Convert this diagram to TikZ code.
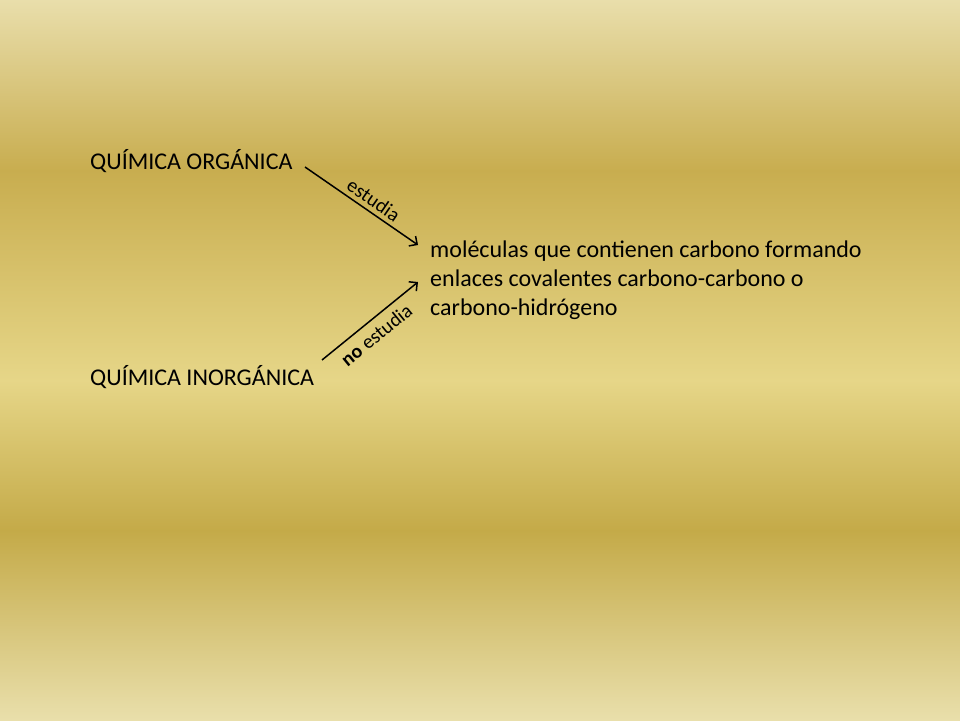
\documentclass[tikz,border=0pt]{standalone}
\usepackage{fontspec}
\setmainfont{Carlito}
\usetikzlibrary{arrows.meta}
\definecolor{bgA}{HTML}{E9DEAB}
\definecolor{bgB}{HTML}{C8AD4F}
\definecolor{bgC}{HTML}{E6D688}
\definecolor{bgD}{HTML}{C4AA48}
\definecolor{bgE}{HTML}{E9DFAB}
\tikzset{
  bigtext/.style={font=\fontsize{24}{29}\selectfont, inner sep=0pt, text=black},
  lbltext/.style={font=\fontsize{20}{23}\selectfont, inner sep=1pt, text=black},
  arr/.style={draw=black, line width=1.5pt, -{Straight Barb[length=6pt,width=12pt,line width=1.5pt]}},
  band/.style={draw=none}
}
\begin{document}
\begin{tikzpicture}[x=1pt,y=-1pt]
\shade[band, top color=bgA, bottom color=bgB] (0,0) rectangle (960,171);
\shade[band, top color=bgB, bottom color=bgC] (0,170) rectangle (960,381);
\shade[band, top color=bgC, bottom color=bgD] (0,380) rectangle (960,531);
\shade[band, top color=bgD, bottom color=bgE] (0,530) rectangle (960,720);
\useasboundingbox (0,0) rectangle (960,720);
\node[bigtext, anchor=west] (org) at (90,161) {QUÍMICA ORGÁNICA};
\node[bigtext, anchor=west] (inorg) at (90,377) {QUÍMICA INORGÁNICA};
\node[bigtext, anchor=north west, align=left] (mol) at (430,241)
  {moléculas que contienen carbono formando\\enlaces covalentes carbono-carbono o\\carbono-hidrógeno};
\coordinate (s1) at (305,167);
\coordinate (e1) at (418,245);
\coordinate (s2) at (322,360);
\coordinate (e2) at (418,282);
\draw[arr] (s1) -- (e1) node[lbltext, pos=0.55, sloped, above, yshift=3pt] (l1) {estudia};
\draw[arr] (s2) -- (e2) node[lbltext, pos=0.47, sloped, below, yshift=-6pt] (l2) {\textbf{no} estudia};
\end{tikzpicture}
\end{document}
